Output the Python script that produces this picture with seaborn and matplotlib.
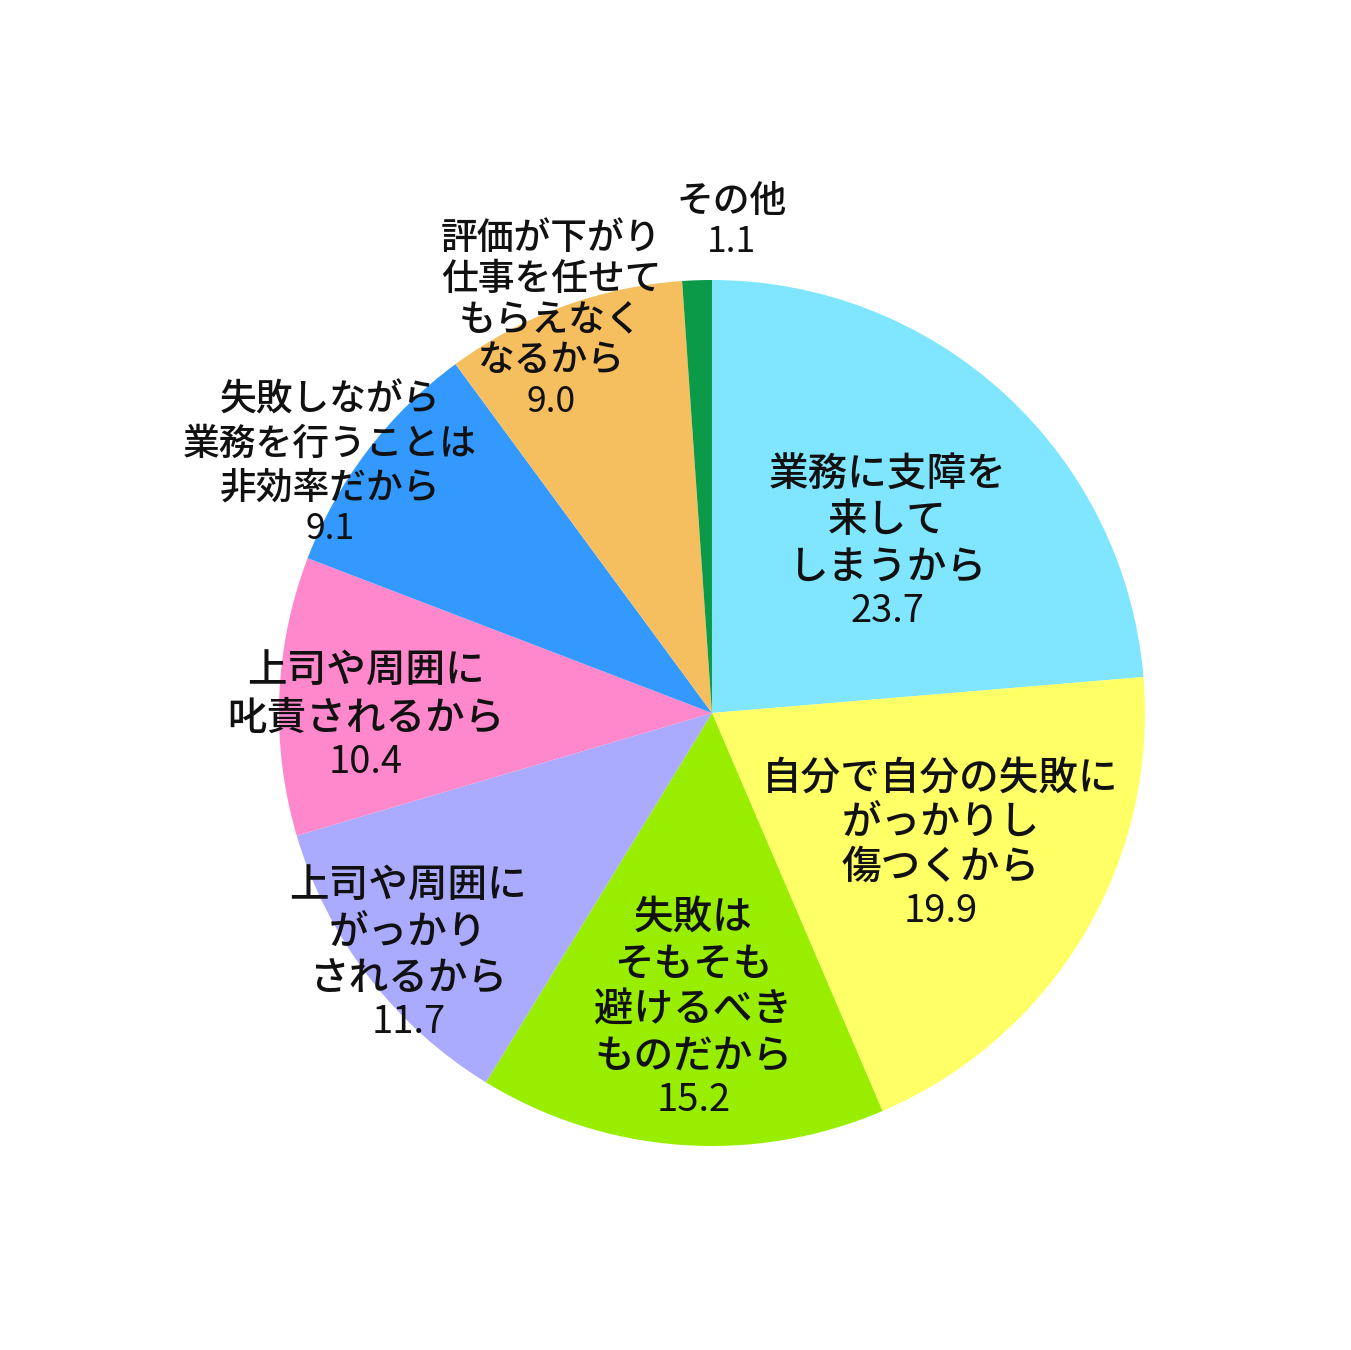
import numpy as np
import matplotlib
matplotlib.use("Agg")
import matplotlib.pyplot as plt
import seaborn as sns

# 回答の選択肢（時計回り、真上から）
labels = [
    "業務に支障を\n来して\nしまうから",
    "自分で自分の失敗に\nがっかりし\n傷つくから",
    "失敗は\nそもそも\n避けるべき\nものだから",
    "上司や周囲に\nがっかり\nされるから",
    "上司や周囲に\n叱責されるから",
    "失敗しながら\n業務を行うことは\n非効率だから",
    "評価が下がり\n仕事を任せて\nもらえなく\nなるから",
    "その他",
]
values = [23.7, 19.9, 15.2, 11.7, 10.4, 9.1, 9.0, 1.1]
value_text = ["23.7", "19.9", "15.2", "11.7", "10.4", "9.1", "9.0", "1.1"]

colors = ["#80E6FF", "#FFFF66", "#99EE00", "#AAAAFF",
          "#FF88CC", "#3399FF", "#F5BF60", "#0A9A48"]

# ラベルの配置（半径比, 角度のずらし[度], 文字サイズ, 行間）
label_r = [0.495, 0.667, 0.846, 0.967, 0.802, 1.0, 0.85, 1.135]
label_shift = [-12.3, -6.7, 1.2, 6.0, 6.8, 9.2, 5.8, -4.3]
label_size = [28.5, 28.5, 28.5, 28.5, 28.5, 26.5, 26.5, 26.5]
label_spacing = [1.2, 1.15, 1.2, 1.2, 1.2, 1.2, 1.1, 1.1]

sns.set_theme(style="white")
plt.rcParams["font.family"] = ["Noto Sans CJK JP", "DejaVu Sans"]

fig = plt.figure(figsize=(13.51, 13.50), dpi=100)
ax = fig.add_axes([0.2065, 0.1511, 0.641, 0.6415])

wedges, _ = ax.pie(
    values,
    colors=colors,
    startangle=90,
    counterclock=False,
    radius=1,
    wedgeprops={"linewidth": 0},
)
ax.set_xlim(-1, 1)
ax.set_ylim(-1, 1)
ax.set_aspect("equal")
ax.axis("off")

for w, name, val, r, sh, fs, ls in zip(wedges, labels, value_text, label_r,
                                       label_shift, label_size, label_spacing):
    mid = (w.theta1 + w.theta2) / 2 + sh
    x = r * np.cos(np.radians(mid))
    y = r * np.sin(np.radians(mid))
    ax.text(x, y + 0.005, name, ha="center", va="bottom", fontsize=fs,
            fontweight="medium", linespacing=ls, color="#111111",
            clip_on=False)
    ax.text(x, y - 0.005, val, ha="center", va="top", fontsize=fs - 1,
            fontweight="normal", color="#111111", clip_on=False)

fig.savefig("out.png", dpi=100, facecolor="white")
